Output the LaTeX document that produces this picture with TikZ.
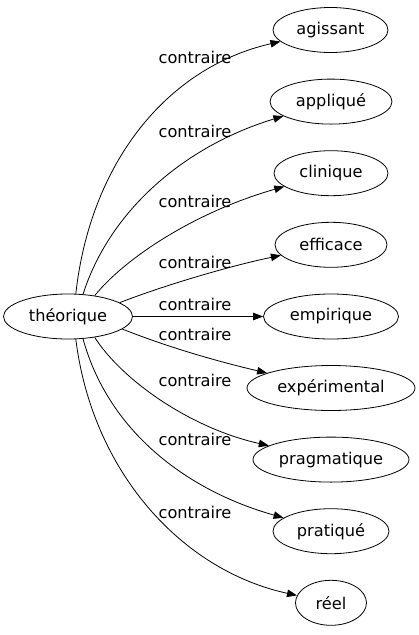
\documentclass[tikz,border=0pt]{standalone}
\usepackage{fontspec}
\setmainfont{DejaVu Sans}
\usetikzlibrary{arrows.meta,shapes.geometric}
\tikzset{
  word/.style={draw, ellipse, line width=0.8pt, minimum height=45pt, inner sep=0pt, font=\fontsize{16.2}{19}\selectfont},
  rel/.style={font=\fontsize{16.2}{19}\selectfont, inner sep=0pt},
  link/.style={line width=0.8pt, -{Triangle[length=10pt,width=7.5pt]}}
}
\begin{document}
\begin{tikzpicture}[x=1pt,y=-1pt]
\useasboundingbox (0,0) rectangle (419,635);
\node[word, minimum width=129pt] (t) at (68,316.5) {théorique};
\node[word, minimum width=115pt] (n1) at (330.5,30) {agissant};
\node[word, minimum width=122pt] (n2) at (331,101.6) {appliqué};
\node[word, minimum width=114pt] (n3) at (331,173.2) {clinique};
\node[word, minimum width=112pt] (n4) at (331,244.8) {efficace};
\node[word, minimum width=135pt] (n5) at (331,316.5) {empirique};
\node[word, minimum width=168pt] (n6) at (331,388) {expérimental};
\node[word, minimum width=156pt] (n7) at (331,459.6) {pragmatique};
\node[word, minimum width=116pt] (n8) at (331,531.2) {pratiqué};
\node[word, minimum width=71pt] (n9) at (331,602.8) {réel};

\draw[link] (t.71) .. controls (90,165) and (165,68) .. (n1);
\draw[link] (t.56) .. controls (110,210) and (185,146) .. (n2);
\draw[link] (t.38) .. controls (125,258) and (195,212) .. (n3);
\draw[link] (t.15) .. controls (165,285) and (230,266) .. (n4);
\draw[link] (t) -- (n5);
\draw[link] (t.-13) .. controls (170,348) and (220,362) .. (n6);
\draw[link] (t.-38) .. controls (122,380) and (190,428) .. (n7);
\draw[link] (t.-56) .. controls (108,430) and (185,490) .. (n8);
\draw[link] (t.-71) .. controls (92,470) and (180,570) .. (n9);

\node[rel] (l1) at (195,57) {contraire};
\node[rel] (l2) at (195,131) {contraire};
\node[rel] (l3) at (195,201) {contraire};
\node[rel] (l4) at (195,262) {contraire};
\node[rel] (l5) at (195,304) {contraire};
\node[rel] (l6) at (195,334) {contraire};
\node[rel] (l7) at (195,380) {contraire};
\node[rel] (l8) at (195,439) {contraire};
\node[rel] (l9) at (195,512) {contraire};
\end{tikzpicture}
\end{document}
